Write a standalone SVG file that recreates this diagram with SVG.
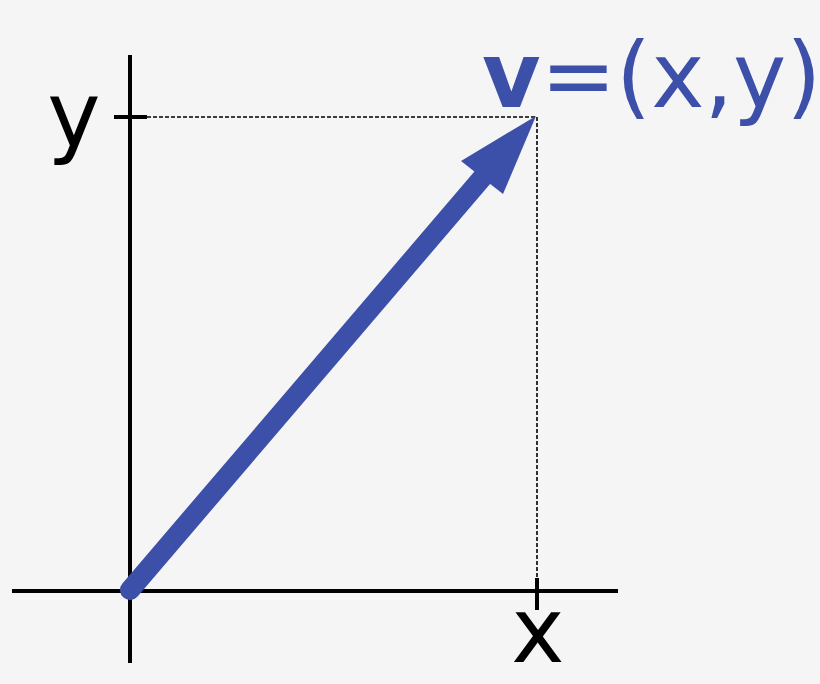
<svg xmlns="http://www.w3.org/2000/svg" width="820" height="684" viewBox="0 0 820 684">
<style>
.axis{stroke:#000;stroke-width:4;fill:none}
.dash{stroke:#000;stroke-width:1.6;stroke-dasharray:4,2;fill:none}
.lbl{font-family:"DejaVu Sans",sans-serif;font-size:90px;fill:#000}
.vec{fill:#3d50a9;font-family:"DejaVu Sans",sans-serif;font-size:90px}
</style>
<rect width="820" height="684" fill="#f5f5f6"/>
<g id="axes">
<line class="axis" x1="130" y1="55" x2="130" y2="663"/>
<line class="axis" x1="12" y1="591" x2="618" y2="591"/>
<line class="axis" x1="114" y1="117" x2="147" y2="117"/>
<line class="axis" x1="537" y1="578" x2="537" y2="610"/>
</g>
<g id="guides">
<line class="dash" x1="147" y1="117" x2="537" y2="117"/>
<line class="dash" x1="537" y1="117" x2="537" y2="578"/>
</g>
<g id="vector">
<line x1="130" y1="590" x2="488" y2="171" stroke="#3d50a9" stroke-width="20" stroke-linecap="round"/>
<polygon points="536,116 461,161 503,194" fill="#3d50a9"/>
</g>
<g id="labels">
<text class="lbl" x="74" y="146" text-anchor="middle">y</text>
<text class="lbl" x="538" y="662" text-anchor="middle">x</text>
<text class="vec" x="482" y="107"><tspan font-weight="bold">v</tspan>=(x,y)</text>
</g>
</svg>
